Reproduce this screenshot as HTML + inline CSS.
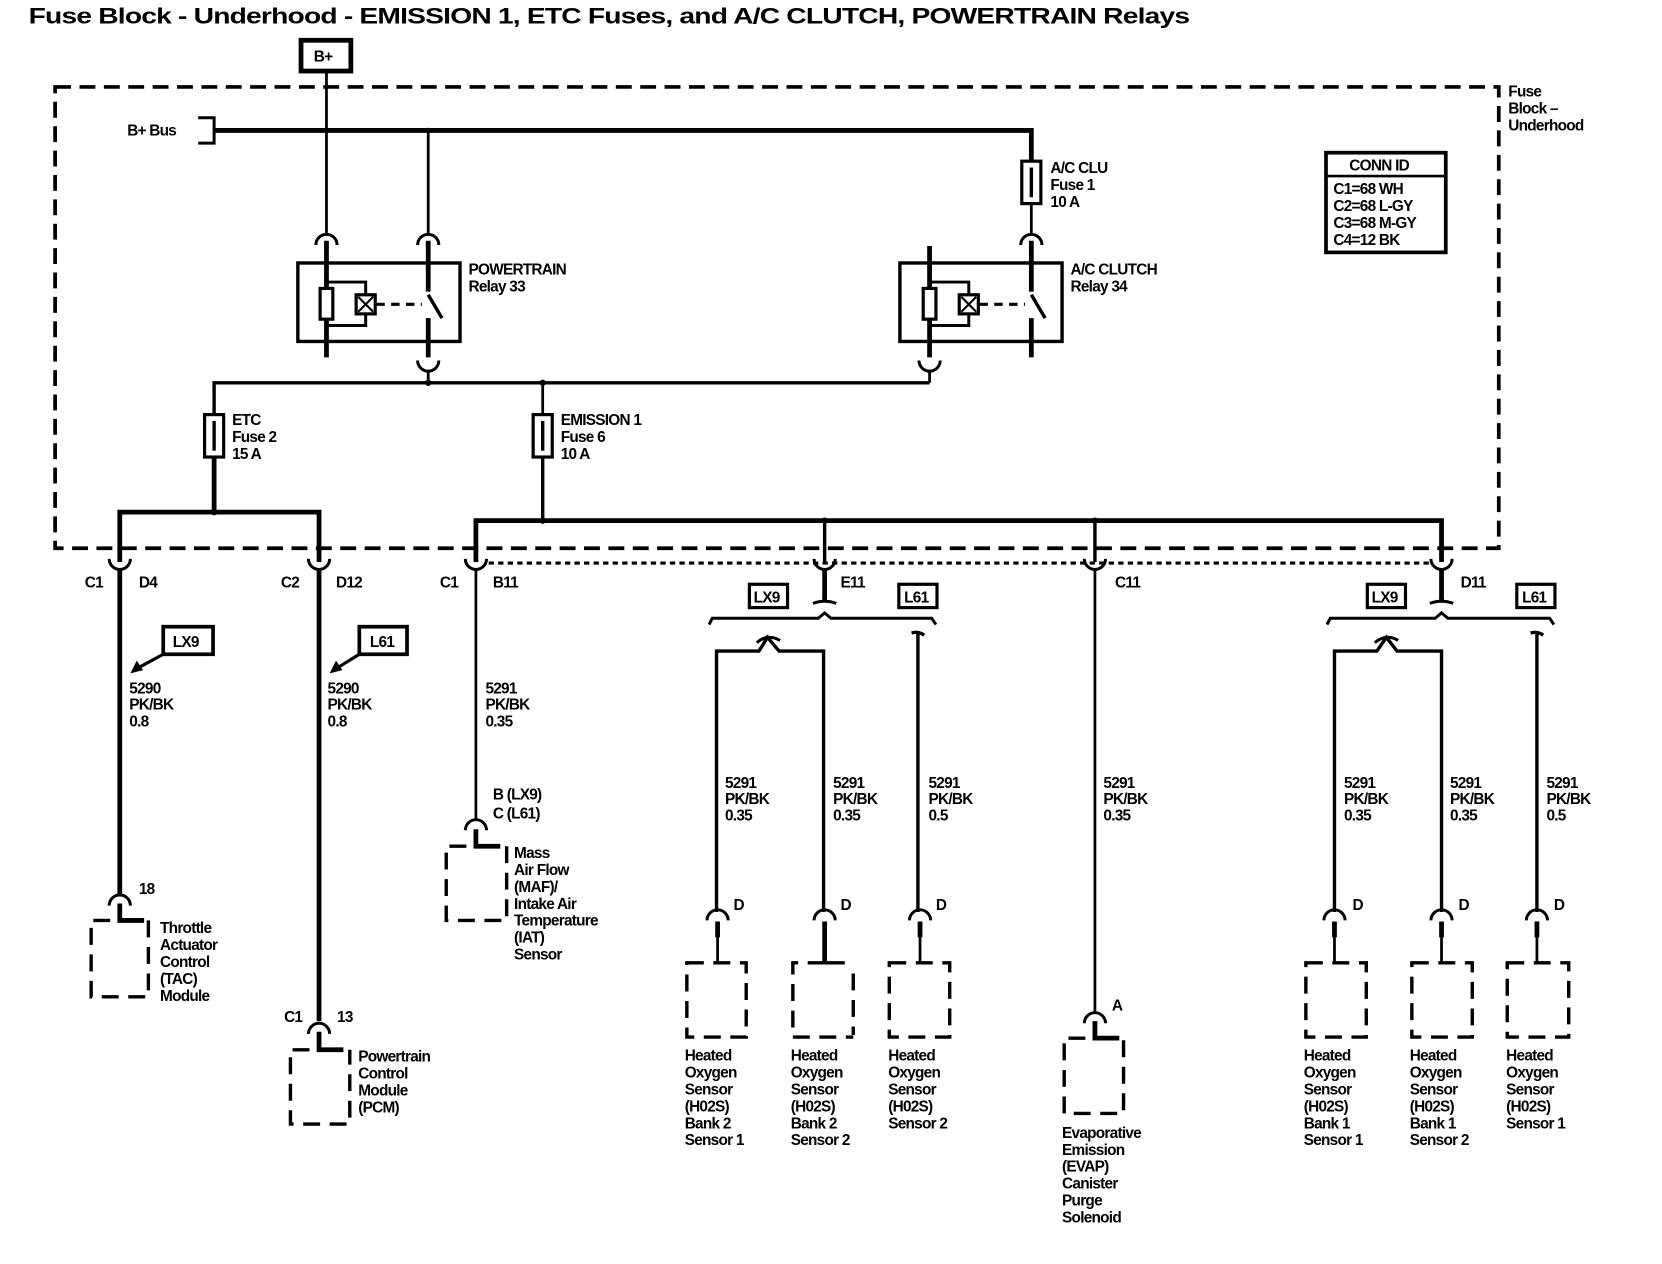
<!DOCTYPE html>
<html><head><meta charset="utf-8"><style>
html,body{margin:0;padding:0;background:#fff;}
svg{display:block;}
text{font-family:"Liberation Sans",Arial,sans-serif;font-size:14.5px;font-weight:bold;letter-spacing:-0.7px;fill:#000;}
.w{stroke:#000;fill:none;stroke-width:2.6;}
.k{stroke:#000;fill:none;stroke-width:4.5;}
.m{stroke:#000;fill:none;stroke-width:3.2;}
.d{stroke:#000;fill:none;stroke-width:3.2;stroke-dasharray:16 9;}
.c{stroke:#000;fill:none;stroke-width:2.8;}
</style></head><body>
<svg width="1662" height="1264" viewBox="0 0 1568 1192" preserveAspectRatio="none" xmlns="http://www.w3.org/2000/svg">
<rect width="1568" height="1192" fill="#fff"/>
<text x="27" y="22" style="font-size:21px;letter-spacing:-0.6px" textLength="1095" lengthAdjust="spacingAndGlyphs">Fuse Block - Underhood - EMISSION 1, ETC Fuses, and A/C CLUTCH, POWERTRAIN Relays</text>

<!-- B+ -->
<rect x="284" y="38" width="47" height="29" fill="none" stroke="#000" stroke-width="4.5"/>
<text x="296" y="58">B+</text>
<line class="w" x1="308" y1="67" x2="308" y2="220"/>

<!-- dashed block -->
<path d="M52 82 H1414 V517 H52 Z" fill="none" stroke="#000" stroke-width="3.5" stroke-dasharray="15 8"/>
<text x="1423" y="91">Fuse</text><text x="1423" y="107">Block –</text><text x="1423" y="123">Underhood</text>

<!-- CONN ID -->
<rect x="1251" y="144" width="113" height="94" fill="none" stroke="#000" stroke-width="3.5"/>
<line x1="1251" y1="166" x2="1364" y2="166" stroke="#000" stroke-width="2.5"/>
<text x="1273" y="161">CONN ID</text>
<text x="1258" y="183">C1=68 WH</text><text x="1258" y="199">C2=68 L-GY</text><text x="1258" y="215">C3=68 M-GY</text><text x="1258" y="231">C4=12 BK</text>

<!-- B+ bus -->
<text x="120" y="128">B+ Bus</text>
<path class="c" d="M187 111 H202 V135 H187"/>
<path class="k" d="M202 123 H973 V152"/>
<circle cx="308" cy="123" r="2.5"/><circle cx="404" cy="123" r="2.5"/>
<line class="w" x1="404" y1="123" x2="404" y2="220"/>
<rect x="964" y="152" width="18" height="40" fill="#fff" stroke="#000" stroke-width="3"/>
<line class="m" x1="973" y1="158" x2="973" y2="186"/>
<line class="w" x1="973" y1="192" x2="973" y2="220"/>
<text x="991" y="163">A/C CLU</text><text x="991" y="179">Fuse 1</text><text x="991" y="195">10 A</text>

<!-- top female connectors -->
<path class="c" d="M298 231 A10 10 0 0 1 318 231"/>
<path class="c" d="M394 231 A10 10 0 0 1 414 231"/>
<path class="c" d="M963 231 A10 10 0 0 1 983 231"/>

<!-- POWERTRAIN relay -->
<rect x="281" y="248" width="153" height="74" fill="none" stroke="#000" stroke-width="3.2"/>
<line class="k" x1="308" y1="227" x2="308" y2="337"/>
<line class="k" x1="404" y1="227" x2="404" y2="275"/>
<line class="k" x1="404" y1="300" x2="404" y2="337"/>
<line class="m" x1="404" y1="278" x2="417" y2="300"/>
<rect x="302" y="272" width="12" height="29" fill="#fff" stroke="#000" stroke-width="3"/>
<path class="c" d="M308 266 H345 V278 M345 296 V307 H308"/>
<rect x="336" y="278" width="18" height="18" fill="#fff" stroke="#000" stroke-width="3"/>
<path d="M338 280 L352 294 M352 280 L338 294" stroke="#000" stroke-width="2"/>
<line x1="355" y1="287" x2="398" y2="287" stroke="#000" stroke-width="3" stroke-dasharray="8 6"/>
<text x="442" y="259">POWERTRAIN</text><text x="442" y="275">Relay 33</text>
<path class="c" d="M394 340 A10 10 0 0 0 414 340"/>
<line class="w" x1="404" y1="350" x2="404" y2="361"/>

<!-- A/C CLUTCH relay -->
<rect x="849" y="248" width="153" height="74" fill="none" stroke="#000" stroke-width="3.2"/>
<line class="k" x1="877" y1="232" x2="877" y2="337"/>
<line class="k" x1="973" y1="227" x2="973" y2="275"/>
<line class="k" x1="973" y1="300" x2="973" y2="337"/>
<line class="m" x1="973" y1="278" x2="986" y2="300"/>
<rect x="871" y="272" width="12" height="29" fill="#fff" stroke="#000" stroke-width="3"/>
<path class="c" d="M877 266 H914 V278 M914 296 V307 H877"/>
<rect x="905" y="278" width="18" height="18" fill="#fff" stroke="#000" stroke-width="3"/>
<path d="M907 280 L921 294 M921 280 L907 294" stroke="#000" stroke-width="2"/>
<line x1="924" y1="287" x2="967" y2="287" stroke="#000" stroke-width="3" stroke-dasharray="8 6"/>
<text x="1010" y="259">A/C CLUTCH</text><text x="1010" y="275">Relay 34</text>
<path class="c" d="M867 340 A10 10 0 0 0 887 340"/>
<line class="w" x1="877" y1="350" x2="877" y2="361"/>

<!-- relay output bus -->
<path class="m" d="M202 391 V361 H877"/>
<circle cx="404" cy="361" r="3"/><circle cx="512" cy="361" r="3"/>
<line class="w" x1="512" y1="361" x2="512" y2="391"/>
<rect x="193" y="391" width="18" height="40" fill="#fff" stroke="#000" stroke-width="3"/>
<line class="m" x1="202" y1="397" x2="202" y2="425"/>
<rect x="503" y="391" width="18" height="40" fill="#fff" stroke="#000" stroke-width="3"/>
<line class="m" x1="512" y1="397" x2="512" y2="425"/>
<text x="219" y="401">ETC</text><text x="219" y="417">Fuse 2</text><text x="219" y="433">15 A</text>
<text x="529" y="401">EMISSION 1</text><text x="529" y="417">Fuse 6</text><text x="529" y="433">10 A</text>
<line class="k" x1="202" y1="431" x2="202" y2="483"/>
<line class="m" x1="512" y1="431" x2="512" y2="491"/>
<path class="k" d="M113 530 V483 H301 V530"/>
<circle cx="202" cy="483" r="3"/>
<path class="k" d="M449 530 V491 H1360 V530"/>
<circle cx="512" cy="491" r="3"/><circle cx="778" cy="491" r="3"/><circle cx="1033" cy="491" r="3"/>
<line class="m" x1="778" y1="491" x2="778" y2="530"/>
<line class="m" x1="1033" y1="491" x2="1033" y2="530"/>

<!-- bottom connectors -->
<path class="c" d="M103 527 A10 10 0 0 0 123 527"/>
<path class="c" d="M291 527 A10 10 0 0 0 311 527"/>
<path class="c" d="M439 527 A10 10 0 0 0 459 527"/>
<path class="c" d="M768 527 A10 10 0 0 0 788 527"/>
<path class="c" d="M1023 527 A10 10 0 0 0 1043 527"/>
<path class="c" d="M1350 527 A10 10 0 0 0 1370 527"/>
<line x1="461" y1="531" x2="1348" y2="531" stroke="#000" stroke-width="3" stroke-dasharray="5 4"/>
<text x="80" y="554">C1</text><text x="131" y="554">D4</text>
<text x="265" y="554">C2</text><text x="317" y="554">D12</text>
<text x="415" y="554">C1</text><text x="465" y="554">B11</text>
<text x="793" y="554">E11</text><text x="1052" y="554">C11</text><text x="1378" y="554">D11</text>

<!-- D4 / TAC -->
<line class="k" x1="113" y1="537" x2="113" y2="843"/>
<rect x="154" y="591" width="47" height="26" fill="none" stroke="#000" stroke-width="3.5"/>
<text x="163" y="610">LX9</text>
<line x1="154" y1="617" x2="130" y2="630" stroke="#000" stroke-width="3"/>
<path d="M123 635 L129 623 L135 632 Z" fill="#000"/>
<text x="122" y="654">5290</text><text x="122" y="669">PK/BK</text><text x="122" y="685">0.8</text>
<text x="131" y="843">18</text>
<path class="c" d="M103 854 A10 10 0 0 1 123 854"/>
<path class="k" d="M113 852 V868 H136"/>
<path d="M104 868 H86 V940 H140 V868" class="d"/>
<text x="151" y="880">Throttle</text><text x="151" y="896">Actuator</text><text x="151" y="912">Control</text><text x="151" y="928">(TAC)</text><text x="151" y="944">Module</text>

<!-- D12 / PCM -->
<line class="k" x1="301" y1="537" x2="301" y2="963"/>
<rect x="339" y="591" width="45" height="26" fill="none" stroke="#000" stroke-width="3.5"/>
<text x="349" y="610">L61</text>
<line x1="339" y1="617" x2="318" y2="630" stroke="#000" stroke-width="3"/>
<path d="M311 635 L317 623 L323 632 Z" fill="#000"/>
<text x="309" y="654">5290</text><text x="309" y="669">PK/BK</text><text x="309" y="685">0.8</text>
<text x="268" y="964">C1</text><text x="318" y="964">13</text>
<path class="c" d="M291 975 A10 10 0 0 1 311 975"/>
<path class="k" d="M301 973 V990 H324"/>
<path d="M292 990 H274 V1060 H330 V990" class="d"/>
<text x="338" y="1001">Powertrain</text><text x="338" y="1017">Control</text><text x="338" y="1033">Module</text><text x="338" y="1049">(PCM)</text>

<!-- B11 / MAF -->
<line class="w" x1="449" y1="537" x2="449" y2="773"/>
<text x="458" y="654">5291</text><text x="458" y="669">PK/BK</text><text x="458" y="685">0.35</text>
<text x="465" y="754">B (LX9)</text><text x="465" y="772">C (L61)</text>
<path class="c" d="M439 783 A10 10 0 0 1 459 783"/>
<path class="k" d="M449 782 V798 H472"/>
<path d="M440 798 H421 V868 H478 V798" class="d"/>
<text x="485" y="809">Mass</text><text x="485" y="825">Air Flow</text><text x="485" y="841">(MAF)/</text><text x="485" y="857">Intake Air</text><text x="485" y="873">Temperature</text><text x="485" y="889">(IAT)</text><text x="485" y="905">Sensor</text>

<!-- E11 branch -->
<line class="k" x1="778" y1="537" x2="778" y2="568"/>
<path class="c" d="M767 569 Q778 565 789 569"/>
<rect x="707" y="551" width="36" height="22" fill="none" stroke="#000" stroke-width="3"/>
<text x="711" y="568">LX9</text>
<rect x="848" y="551" width="36" height="22" fill="none" stroke="#000" stroke-width="3"/>
<text x="853" y="568">L61</text>
<path class="c" d="M669 589 L672 583 H772 L778 578 L784 583 H879 L883 589"/>
<path class="m" d="M676 860 V614 H716 L724 601 L735 614 H777 V860"/>
<path class="c" d="M714 606 Q724 597 736 604"/>
<path class="m" d="M866 860 V598 M860 597 Q866 595 872 599"/>
<text x="684" y="743">5291</text><text x="684" y="758">PK/BK</text><text x="684" y="774">0.35</text>
<text x="786" y="743">5291</text><text x="786" y="758">PK/BK</text><text x="786" y="774">0.35</text>
<text x="876" y="743">5291</text><text x="876" y="758">PK/BK</text><text x="876" y="774">0.5</text>

<!-- C11 / EVAP -->
<line class="w" x1="1033" y1="537" x2="1033" y2="955"/>
<text x="1041" y="743">5291</text><text x="1041" y="758">PK/BK</text><text x="1041" y="774">0.35</text>
<text x="1049" y="953">A</text>
<path class="c" d="M1023 965 A10 10 0 0 1 1043 965"/>
<path class="k" d="M1033 963 V979 H1056"/>
<path d="M1024 979 H1004 V1050 H1060 V979" class="d"/>
<text x="1002" y="1073">Evaporative</text><text x="1002" y="1089">Emission</text><text x="1002" y="1105">(EVAP)</text><text x="1002" y="1121">Canister</text><text x="1002" y="1137">Purge</text><text x="1002" y="1153">Solenoid</text>

<!-- D11 branch -->
<line class="k" x1="1360" y1="537" x2="1360" y2="568"/>
<path class="c" d="M1349 569 Q1360 565 1371 569"/>
<rect x="1290" y="551" width="36" height="22" fill="none" stroke="#000" stroke-width="3"/>
<text x="1294" y="568">LX9</text>
<rect x="1431" y="551" width="36" height="22" fill="none" stroke="#000" stroke-width="3"/>
<text x="1436" y="568">L61</text>
<path class="c" d="M1252 589 L1255 583 H1354 L1360 578 L1366 583 H1462 L1466 589"/>
<path class="m" d="M1259 860 V614 H1299 L1308 601 L1318 614 H1360 V860"/>
<path class="c" d="M1297 606 Q1308 597 1319 604"/>
<path class="m" d="M1450 860 V598 M1444 597 Q1450 595 1456 599"/>
<text x="1268" y="743">5291</text><text x="1268" y="758">PK/BK</text><text x="1268" y="774">0.35</text>
<text x="1368" y="743">5291</text><text x="1368" y="758">PK/BK</text><text x="1368" y="774">0.35</text>
<text x="1459" y="743">5291</text><text x="1459" y="758">PK/BK</text><text x="1459" y="774">0.5</text>

<!-- D connectors & sensors -->
<g>
<path class="c" d="M667 868 A10 10 0 0 1 687 868"/><line class="k" x1="677" y1="869" x2="677" y2="884"/><line class="w" x1="677" y1="884" x2="677" y2="908"/>
<path class="c" d="M768 868 A10 10 0 0 1 788 868"/><line class="k" x1="778" y1="869" x2="778" y2="908"/>
<path class="c" d="M858 868 A10 10 0 0 1 878 868"/><line class="k" x1="868" y1="869" x2="868" y2="884"/><line class="w" x1="868" y1="884" x2="868" y2="908"/>
<path class="c" d="M1249 868 A10 10 0 0 1 1269 868"/><line class="k" x1="1259" y1="869" x2="1259" y2="884"/><line class="w" x1="1259" y1="884" x2="1259" y2="908"/>
<path class="c" d="M1350 868 A10 10 0 0 1 1370 868"/><line class="k" x1="1360" y1="869" x2="1360" y2="884"/><line class="w" x1="1360" y1="884" x2="1360" y2="908"/>
<path class="c" d="M1440 868 A10 10 0 0 1 1460 868"/><line class="k" x1="1450" y1="869" x2="1450" y2="884"/><line class="w" x1="1450" y1="884" x2="1450" y2="908"/>
</g>
<text x="692" y="858">D</text><text x="793" y="858">D</text><text x="883" y="858">D</text>
<text x="1276" y="858">D</text><text x="1376" y="858">D</text><text x="1466" y="858">D</text>

<rect class="d" x="648" y="908" width="56" height="70"/>
<path class="d" d="M778 908 H748 V978 H805"/><path class="m" d="M778 908 H797"/><path d="M805 918 V976" class="d"/>
<rect class="d" x="839" y="908" width="57" height="70"/>
<rect class="d" x="1232" y="908" width="57" height="70"/>
<rect class="d" x="1332" y="908" width="57" height="70"/>
<rect class="d" x="1422" y="908" width="58" height="70"/>

<text x="646" y="1000">Heated</text><text x="646" y="1016">Oxygen</text><text x="646" y="1032">Sensor</text><text x="646" y="1048">(H02S)</text><text x="646" y="1064">Bank 2</text><text x="646" y="1080">Sensor 1</text>
<text x="746" y="1000">Heated</text><text x="746" y="1016">Oxygen</text><text x="746" y="1032">Sensor</text><text x="746" y="1048">(H02S)</text><text x="746" y="1064">Bank 2</text><text x="746" y="1080">Sensor 2</text>
<text x="838" y="1000">Heated</text><text x="838" y="1016">Oxygen</text><text x="838" y="1032">Sensor</text><text x="838" y="1048">(H02S)</text><text x="838" y="1064">Sensor 2</text>
<text x="1230" y="1000">Heated</text><text x="1230" y="1016">Oxygen</text><text x="1230" y="1032">Sensor</text><text x="1230" y="1048">(H02S)</text><text x="1230" y="1064">Bank 1</text><text x="1230" y="1080">Sensor 1</text>
<text x="1330" y="1000">Heated</text><text x="1330" y="1016">Oxygen</text><text x="1330" y="1032">Sensor</text><text x="1330" y="1048">(H02S)</text><text x="1330" y="1064">Bank 1</text><text x="1330" y="1080">Sensor 2</text>
<text x="1421" y="1000">Heated</text><text x="1421" y="1016">Oxygen</text><text x="1421" y="1032">Sensor</text><text x="1421" y="1048">(H02S)</text><text x="1421" y="1064">Sensor 1</text>
</svg>
</body></html>
